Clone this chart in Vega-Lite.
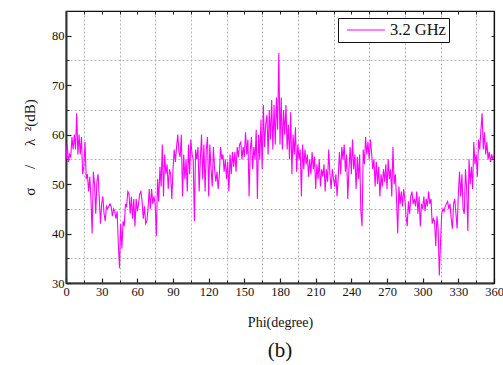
{
  "$schema": "https://vega.github.io/schema/vega-lite/v6.json",
  "width": 428,
  "height": 272,
  "autosize": "none",
  "padding": {"left": 66, "top": 11, "right": 9, "bottom": 82},
  "background": "white",
  "config": {
    "font": "Liberation Serif",
    "view": {"stroke": "black", "strokeWidth": 1.2},
    "axis": {"labelFont": "Liberation Serif", "titleFont": "Liberation Serif", "labelColor": "#111", "titleColor": "#111", "titleFontWeight": "normal", "tickColor": "#222", "domainColor": "#333", "gridColor": "#b5b5b5", "gridDash": [2, 2], "gridWidth": 1, "labelFlush": false}
  },
  "title": {"text": "(b)", "orient": "bottom", "fontSize": 21, "font": "Liberation Serif", "fontWeight": "normal", "color": "#111", "offset": 10},
  "data": {"values": [
{"phi":0,"rcs":55},{"phi":1,"rcs":58},{"phi":2,"rcs":54.5},{"phi":3,"rcs":56},{"phi":4,"rcs":55.5},{"phi":5,"rcs":59.5},{"phi":6,"rcs":57},{"phi":7,"rcs":60},{"phi":8,"rcs":57},{"phi":9,"rcs":64.3},
{"phi":10,"rcs":56},{"phi":11,"rcs":60},{"phi":12,"rcs":56},{"phi":13,"rcs":59.5},{"phi":14,"rcs":52},{"phi":15,"rcs":53.5},{"phi":16,"rcs":58.5},{"phi":17,"rcs":51},{"phi":18,"rcs":52},{"phi":19,"rcs":48.5},
{"phi":20,"rcs":51.5},{"phi":21,"rcs":47},{"phi":22,"rcs":40},{"phi":23,"rcs":52.5},{"phi":24,"rcs":50},{"phi":25,"rcs":44},{"phi":26,"rcs":50.5},{"phi":27,"rcs":52},{"phi":28,"rcs":47},{"phi":29,"rcs":42},
{"phi":30,"rcs":46},{"phi":31,"rcs":47.5},{"phi":32,"rcs":44},{"phi":33,"rcs":42.5},{"phi":34,"rcs":45.5},{"phi":35,"rcs":45},{"phi":36,"rcs":45.5},{"phi":37,"rcs":46},{"phi":38,"rcs":45.5},{"phi":39,"rcs":43.5},
{"phi":40,"rcs":45},{"phi":41,"rcs":44.5},{"phi":42,"rcs":43},{"phi":43,"rcs":44.5},{"phi":44,"rcs":38},{"phi":45,"rcs":33},{"phi":46,"rcs":42},{"phi":47,"rcs":37},{"phi":48,"rcs":42.5},{"phi":49,"rcs":41.5},
{"phi":50,"rcs":46},{"phi":51,"rcs":45.5},{"phi":52,"rcs":48.5},{"phi":53,"rcs":48},{"phi":54,"rcs":44},{"phi":55,"rcs":47.5},{"phi":56,"rcs":43},{"phi":57,"rcs":47},{"phi":58,"rcs":41.5},{"phi":59,"rcs":47},
{"phi":60,"rcs":44.5},{"phi":61,"rcs":46},{"phi":62,"rcs":48},{"phi":63,"rcs":48.5},{"phi":64,"rcs":46.5},{"phi":65,"rcs":43},{"phi":66,"rcs":45.5},{"phi":67,"rcs":42},{"phi":68,"rcs":42.5},{"phi":69,"rcs":45},
{"phi":70,"rcs":49},{"phi":71,"rcs":45},{"phi":72,"rcs":49},{"phi":73,"rcs":46},{"phi":74,"rcs":47.5},{"phi":75,"rcs":46},{"phi":76,"rcs":39.5},{"phi":77,"rcs":51},{"phi":78,"rcs":46.5},{"phi":79,"rcs":53.5},
{"phi":80,"rcs":49.5},{"phi":81,"rcs":58},{"phi":82,"rcs":47.5},{"phi":83,"rcs":56},{"phi":84,"rcs":52},{"phi":85,"rcs":54},{"phi":86,"rcs":49},{"phi":87,"rcs":53},{"phi":88,"rcs":52},{"phi":89,"rcs":47},
{"phi":90,"rcs":53},{"phi":91,"rcs":57},{"phi":92,"rcs":54.5},{"phi":93,"rcs":57.5},{"phi":94,"rcs":60},{"phi":95,"rcs":56.5},{"phi":96,"rcs":55.5},{"phi":97,"rcs":60},{"phi":98,"rcs":47.5},{"phi":99,"rcs":56},
{"phi":100,"rcs":51},{"phi":101,"rcs":55},{"phi":102,"rcs":48.5},{"phi":103,"rcs":58},{"phi":104,"rcs":52},{"phi":105,"rcs":59},{"phi":106,"rcs":56},{"phi":107,"rcs":55},{"phi":108,"rcs":42.5},{"phi":109,"rcs":57},
{"phi":110,"rcs":55},{"phi":111,"rcs":57.5},{"phi":112,"rcs":48.5},{"phi":113,"rcs":55},{"phi":114,"rcs":60},{"phi":115,"rcs":51},{"phi":116,"rcs":58},{"phi":117,"rcs":48.5},{"phi":118,"rcs":57},{"phi":119,"rcs":59.5},
{"phi":120,"rcs":47.5},{"phi":121,"rcs":58},{"phi":122,"rcs":53},{"phi":123,"rcs":49.5},{"phi":124,"rcs":57.5},{"phi":125,"rcs":53},{"phi":126,"rcs":50.5},{"phi":127,"rcs":52.5},{"phi":128,"rcs":49},{"phi":129,"rcs":52},
{"phi":130,"rcs":57.5},{"phi":131,"rcs":55},{"phi":132,"rcs":56},{"phi":133,"rcs":52.5},{"phi":134,"rcs":55},{"phi":135,"rcs":51},{"phi":136,"rcs":54.5},{"phi":137,"rcs":48.5},{"phi":138,"rcs":56},{"phi":139,"rcs":52},
{"phi":140,"rcs":56.5},{"phi":141,"rcs":53.5},{"phi":142,"rcs":56.5},{"phi":143,"rcs":52.5},{"phi":144,"rcs":57.5},{"phi":145,"rcs":55.5},{"phi":146,"rcs":58},{"phi":147,"rcs":58.5},{"phi":148,"rcs":55},{"phi":149,"rcs":57.5},
{"phi":150,"rcs":55.5},{"phi":151,"rcs":60.5},{"phi":152,"rcs":56},{"phi":153,"rcs":59},{"phi":154,"rcs":47.5},{"phi":155,"rcs":57},{"phi":156,"rcs":59.5},{"phi":157,"rcs":53},{"phi":158,"rcs":57.5},{"phi":159,"rcs":55},
{"phi":160,"rcs":61},{"phi":161,"rcs":47},{"phi":162,"rcs":60},{"phi":163,"rcs":55},{"phi":164,"rcs":63},{"phi":165,"rcs":53},{"phi":166,"rcs":66},{"phi":167,"rcs":57.5},{"phi":168,"rcs":62},{"phi":169,"rcs":64},
{"phi":170,"rcs":56},{"phi":171,"rcs":65},{"phi":172,"rcs":59},{"phi":173,"rcs":67},{"phi":174,"rcs":57},{"phi":175,"rcs":66},{"phi":176,"rcs":58},{"phi":177,"rcs":67.5},{"phi":178,"rcs":61},{"phi":179,"rcs":76.5},
{"phi":180,"rcs":58},{"phi":181,"rcs":67.5},{"phi":182,"rcs":57},{"phi":183,"rcs":65},{"phi":184,"rcs":60},{"phi":185,"rcs":66},{"phi":186,"rcs":57},{"phi":187,"rcs":62},{"phi":188,"rcs":55},{"phi":189,"rcs":64.5},
{"phi":190,"rcs":52},{"phi":191,"rcs":60},{"phi":192,"rcs":56},{"phi":193,"rcs":61.5},{"phi":194,"rcs":52.5},{"phi":195,"rcs":58},{"phi":196,"rcs":55},{"phi":197,"rcs":57},{"phi":198,"rcs":47.5},{"phi":199,"rcs":58},
{"phi":200,"rcs":53},{"phi":201,"rcs":57},{"phi":202,"rcs":54},{"phi":203,"rcs":56},{"phi":204,"rcs":51.5},{"phi":205,"rcs":55},{"phi":206,"rcs":52},{"phi":207,"rcs":56.5},{"phi":208,"rcs":53},{"phi":209,"rcs":55.5},
{"phi":210,"rcs":49},{"phi":211,"rcs":54},{"phi":212,"rcs":51},{"phi":213,"rcs":55},{"phi":214,"rcs":49.5},{"phi":215,"rcs":53},{"phi":216,"rcs":51.5},{"phi":217,"rcs":54},{"phi":218,"rcs":48.5},{"phi":219,"rcs":53},
{"phi":220,"rcs":50.5},{"phi":221,"rcs":57},{"phi":222,"rcs":52},{"phi":223,"rcs":49},{"phi":224,"rcs":53},{"phi":225,"rcs":51},{"phi":226,"rcs":49.5},{"phi":227,"rcs":52},{"phi":228,"rcs":47.5},{"phi":229,"rcs":51.5},
{"phi":230,"rcs":56.5},{"phi":231,"rcs":52},{"phi":232,"rcs":57.5},{"phi":233,"rcs":55},{"phi":234,"rcs":58},{"phi":235,"rcs":52.5},{"phi":236,"rcs":56},{"phi":237,"rcs":47},{"phi":238,"rcs":53},{"phi":239,"rcs":57.5},
{"phi":240,"rcs":52},{"phi":241,"rcs":59},{"phi":242,"rcs":53},{"phi":243,"rcs":56},{"phi":244,"rcs":49},{"phi":245,"rcs":55.5},{"phi":246,"rcs":51},{"phi":247,"rcs":56},{"phi":248,"rcs":44.5},{"phi":249,"rcs":41.5},
{"phi":250,"rcs":57},{"phi":251,"rcs":54},{"phi":252,"rcs":59.5},{"phi":253,"rcs":56},{"phi":254,"rcs":58.5},{"phi":255,"rcs":55},{"phi":256,"rcs":59},{"phi":257,"rcs":56.5},{"phi":258,"rcs":53},{"phi":259,"rcs":55},
{"phi":260,"rcs":49.5},{"phi":261,"rcs":54.5},{"phi":262,"rcs":50},{"phi":263,"rcs":53.5},{"phi":264,"rcs":47.5},{"phi":265,"rcs":52},{"phi":266,"rcs":49.5},{"phi":267,"rcs":53},{"phi":268,"rcs":50.5},{"phi":269,"rcs":54},
{"phi":270,"rcs":49},{"phi":271,"rcs":55},{"phi":272,"rcs":51},{"phi":273,"rcs":53},{"phi":274,"rcs":47.5},{"phi":275,"rcs":57.5},{"phi":276,"rcs":50},{"phi":277,"rcs":52},{"phi":278,"rcs":47},{"phi":279,"rcs":40},
{"phi":280,"rcs":49.5},{"phi":281,"rcs":46},{"phi":282,"rcs":48.5},{"phi":283,"rcs":45.5},{"phi":284,"rcs":49},{"phi":285,"rcs":47},{"phi":286,"rcs":43.5},{"phi":287,"rcs":41.5},{"phi":288,"rcs":46.5},{"phi":289,"rcs":44},
{"phi":290,"rcs":47.5},{"phi":291,"rcs":48.5},{"phi":292,"rcs":46},{"phi":293,"rcs":47},{"phi":294,"rcs":45.5},{"phi":295,"rcs":48.5},{"phi":296,"rcs":44},{"phi":297,"rcs":47.5},{"phi":298,"rcs":41.5},{"phi":299,"rcs":46},
{"phi":300,"rcs":45},{"phi":301,"rcs":47.5},{"phi":302,"rcs":44.5},{"phi":303,"rcs":47},{"phi":304,"rcs":45.5},{"phi":305,"rcs":48.5},{"phi":306,"rcs":46},{"phi":307,"rcs":47},{"phi":308,"rcs":42},{"phi":309,"rcs":43},
{"phi":310,"rcs":42.5},{"phi":311,"rcs":37.5},{"phi":312,"rcs":43.5},{"phi":313,"rcs":41},{"phi":314,"rcs":31.5},{"phi":315,"rcs":38},{"phi":316,"rcs":44},{"phi":317,"rcs":45},{"phi":318,"rcs":44.5},{"phi":319,"rcs":45.5},
{"phi":320,"rcs":46},{"phi":321,"rcs":46.5},{"phi":322,"rcs":45},{"phi":323,"rcs":46},{"phi":324,"rcs":43},{"phi":325,"rcs":41},{"phi":326,"rcs":46},{"phi":327,"rcs":47},{"phi":328,"rcs":44},{"phi":329,"rcs":41},
{"phi":330,"rcs":48},{"phi":331,"rcs":52.5},{"phi":332,"rcs":47.5},{"phi":333,"rcs":52},{"phi":334,"rcs":45},{"phi":335,"rcs":44},{"phi":336,"rcs":53},{"phi":337,"rcs":49},{"phi":338,"rcs":40.5},{"phi":339,"rcs":55},
{"phi":340,"rcs":50},{"phi":341,"rcs":53.5},{"phi":342,"rcs":49},{"phi":343,"rcs":58.5},{"phi":344,"rcs":54},{"phi":345,"rcs":56},{"phi":346,"rcs":51.5},{"phi":347,"rcs":59},{"phi":348,"rcs":57},{"phi":349,"rcs":61},
{"phi":350,"rcs":64.3},{"phi":351,"rcs":57},{"phi":352,"rcs":60.5},{"phi":353,"rcs":56},{"phi":354,"rcs":58.5},{"phi":355,"rcs":55},{"phi":356,"rcs":56.5},{"phi":357,"rcs":54.5},{"phi":358,"rcs":56},{"phi":359,"rcs":55},
{"phi":360,"rcs":56}
  ]},
  "resolve": {"axis": {"x": "independent", "y": "independent"}},
  "layer": [
    {
      "mark": {"type": "point", "opacity": 0},
      "encoding": {
        "x": {"field": "phi", "type": "quantitative", "scale": {"domain": [0, 360], "nice": false, "zero": false},
              "axis": {"orient": "bottom", "values": [15,45,75,105,135,165,195,225,255,285,315,345], "grid": true, "labels": false, "domain": false, "tickSize": -3, "tickWidth": 1, "title": null}},
        "y": {"field": "rcs", "type": "quantitative", "scale": {"domain": [30, 85], "nice": false, "zero": false},
              "axis": {"orient": "left", "values": [35,45,55,65,75,85], "grid": true, "labels": false, "domain": false, "tickSize": -3, "tickWidth": 1, "title": null}}
      }
    },
    {
      "mark": {"type": "point", "opacity": 0},
      "encoding": {
        "x": {"field": "phi", "type": "quantitative",
              "axis": {"orient": "top", "values": [0,15,30,45,60,75,90,105,120,135,150,165,180,195,210,225,240,255,270,285,300,315,330,345,360], "grid": false, "labels": false, "domain": true, "domainColor": "#111", "domainWidth": 1.2, "tickSize": -3, "tickWidth": 1, "title": null}},
        "y": {"field": "rcs", "type": "quantitative",
              "axis": {"orient": "right", "values": [30,35,40,45,50,55,60,65,70,75,80,85], "grid": false, "labels": false, "domain": true, "domainColor": "#111", "domainWidth": 1.2, "tickSize": -3, "tickWidth": 1, "title": null}}
      }
    },
    {
      "mark": {"type": "line", "strokeWidth": 1.1, "interpolate": "linear"},
      "encoding": {
        "x": {"field": "phi", "type": "quantitative",
              "axis": {"orient": "bottom", "values": [0,30,60,90,120,150,180,210,240,270,300,330,360], "grid": false, "domain": true, "domainWidth": 2, "domainColor": "#333", "tickSize": -5, "tickWidth": 1.2, "labelFont": "Liberation Serif", "labelColor": "#111", "labelFontSize": 12.5, "labelPadding": 7, "labelFlush": false, "title": "Phi(degree)", "titleFont": "Liberation Serif", "titleColor": "#111", "titleFontSize": 14, "titlePadding": 18}},
        "y": {"field": "rcs", "type": "quantitative",
              "axis": {"orient": "left", "values": [30,40,50,60,70,80], "grid": false, "domain": true, "domainWidth": 2, "domainColor": "#333", "tickSize": -5, "tickWidth": 1.2, "labelFont": "Liberation Serif", "labelColor": "#111", "labelFontSize": 12.5, "labelPadding": 7, "labelFlush": false, "title": "σ\u00a0\u00a0\u00a0\u00a0\u00a0/\u00a0\u00a0\u00a0\u00a0\u00a0λ\u00a0\u00a0²(dB)", "titleFont": "Liberation Serif", "titleColor": "#111", "titleFontSize": 15, "titlePadding": 14}},
        "color": {"datum": "3.2 GHz", "type": "nominal", "scale": {"range": ["#ff00ff"]},
                  "legend": {"title": null, "orient": "none", "legendX": 272, "legendY": 7, "symbolType": "M-0.375,0L4.375,0", "symbolSize": 256, "symbolStrokeWidth": 1.2, "symbolFillColor": "transparent", "labelFont": "Liberation Serif", "labelFontSize": 16.5, "labelColor": "#111", "strokeColor": "#111", "fillColor": "white", "padding": 3, "labelOffset": 31}}
      }
    }
  ]
}
